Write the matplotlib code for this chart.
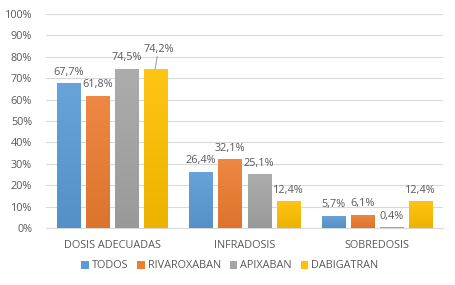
import matplotlib.pyplot as plt
import matplotlib.colors as mcolors
import numpy as np

categories = ["DOSIS ADECUADAS", "INFRADOSIS", "SOBREDOSIS"]
series = ["TODOS", "RIVAROXABAN", "APIXABAN", "DABIGATRAN"]
todos = [67.7, 26.4, 5.7]
rivaroxaban = [61.8, 32.1, 6.1]
apixaban = [74.5, 25.1, 0.4]
dabigatran = [74.2, 12.4, 12.4]
colors = ["#5B9BD5", "#ED7D31", "#A5A5A5", "#FFC000"]

values = [todos, rivaroxaban, apixaban, dabigatran]
text_color = "#595959"
plt.rcParams["font.family"] = ["Open Sans", "DejaVu Sans"]


def gradient_cmap(c):
    # lighter at the top, a bit darker at the bottom, like the Excel fill
    rgb = np.array(mcolors.to_rgb(c))
    top = rgb + (1 - rgb) * 0.08
    bottom = rgb * 0.93
    return mcolors.LinearSegmentedColormap.from_list("g", [bottom, top])


fig = plt.figure(figsize=(4.55, 2.85), dpi=100)
ax = fig.add_axes([46 / 455, 1 - 228 / 285, 397 / 455, 214 / 285])

x = np.arange(len(categories))
step = 0.22
width = 0.174
grad = np.linspace(0, 1, 64).reshape(-1, 1)
for i, (name, vals) in enumerate(zip(series, values)):
    pos = x + (i - 1.5) * step
    bars = ax.bar(pos, vals, width, color=colors[i], label=name, zorder=3)
    cmap = gradient_cmap(colors[i])
    for b in bars:
        bx, by = b.get_x(), b.get_y()
        im = ax.imshow(grad, cmap=cmap, origin="lower", aspect="auto",
                       extent=[bx, bx + b.get_width(), by, by + b.get_height()],
                       zorder=3.5)
        im.set_clip_path(b)
    for j, (p, v) in enumerate(zip(pos, vals)):
        label = f"{v:.1f}%".replace(".", ",")
        if name == "DABIGATRAN" and j == 0:
            # label moved up, with leader line
            ax.plot([p - 0.005, p + 0.01], [v, v + 6.0], color="#A6A6A6", lw=0.8, zorder=4)
            ax.text(p + 0.02, v + 6.8, label, ha="center", va="bottom",
                    fontsize=7.8, color=text_color)
        else:
            ax.text(p, v + 2.6, label, ha="center", va="bottom",
                    fontsize=7.8, color=text_color)

ax.set_xlim(-0.5, 2.5)
ax.set_ylim(0, 100)
ax.set_yticks(range(0, 101, 10))
ax.set_yticklabels([f"{t}%" for t in range(0, 101, 10)])
ax.set_xticks(x)
ax.set_xticklabels(categories)
ax.tick_params(axis="both", length=0, labelsize=7.8, colors=text_color)
ax.tick_params(axis="x", pad=9)
ax.tick_params(axis="y", pad=10)
ax.grid(axis="y", color="#D9D9D9", lw=0.8, zorder=0)
for s in ["top", "right", "left"]:
    ax.spines[s].set_visible(False)
ax.spines["bottom"].set_color("#D9D9D9")

fig.legend(*ax.get_legend_handles_labels(), loc="center", bbox_to_anchor=(0.505, 1 - 266 / 285),
           ncol=4, frameon=False, fontsize=7.8, labelcolor=text_color,
           handlelength=0.7, handleheight=0.7, handletextpad=0.3, columnspacing=0.8)

fig.savefig("out.png", dpi=100)
